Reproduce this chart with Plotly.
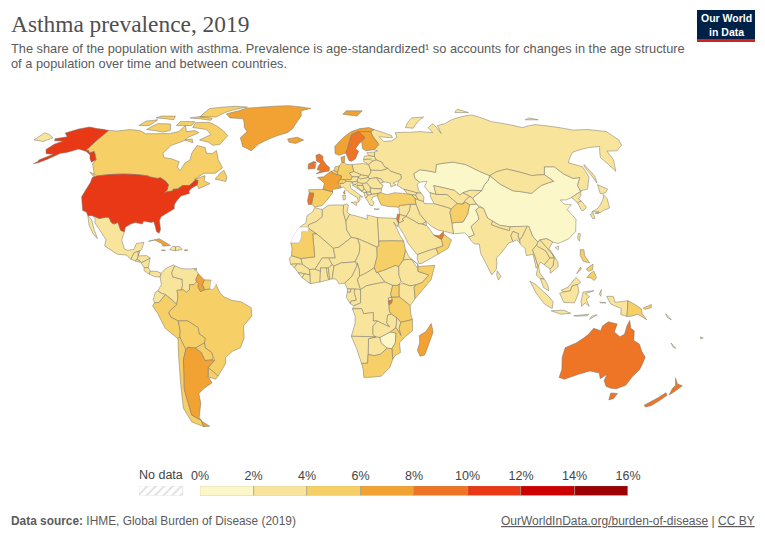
import json
from urllib.parse import quote

import plotly.graph_objects as go

W, H = 765, 540

# ---- chart values (share of population, %)
iso_low = ["CHN","PAK","KAZ","ZWE","LSO"]
val_low = [1.6,1.7,1.7,1.8,1.8]
iso_mid = ["RUS","MNG","UZB","TKM","KGZ","TJK","IND","NPL","BGD","MMR","THA","LAO","VNM","KHM","MYS","IDN","JPN","PRK","KOR","TWN",
           "IRN","IRQ","SYR","JOR","SAU","YEM","KWT","GEO","ARM","AZE","UKR","BLR","MDA","ROU","BGR","SRB","BIH","HRV","SVN","MNE","ALB","MKD","GRC","HUN","SVK","CZE","POL","LTU","LVA","EST","AUT","ITA",
           "MEX","GTM","BLZ","SLV","HND","NIC","CRI","PAN","COL","VEN","ECU","TTO","DOM","HTI",
           "MAR","DZA","TUN","LBY","EGY","MLI","NER","TCD","SEN","GNB","GIN","SLE","LBR","CIV","GHA","TGO","BEN","BFA","NGA","CMR","CAF","SSD","ETH","ERI","DJI","KEN","RWA","GAB","GNQ","COG","COD","AGO","ZMB","MWI","BWA","NAM","SWZ","LKA","SLB","NCL","FJI"]
val_mid = [3.4,3.8,3.2,3.3,3.2,3.2,3.6,3.3,3.4,3.3,3.2,3.2,3.1,3.2,3.6,3.7,3.7,3.3,3.6,3.4,
           3.7,3.6,3.5,3.6,3.7,3.4,3.7,3.2,3.1,3.4,3.5,3.4,3.2,3.5,3.4,3.5,3.4,3.6,3.7,3.4,3.4,3.4,3.8,3.6,3.6,3.8,3.8,3.5,3.5,3.7,3.9,3.9,
           2.9,3.6,3.7,3.8,3.7,3.7,3.8,3.7,3.6,3.6,3.6,3.8,3.8,3.6,
           3.5,3.4,3.5,3.6,3.5,3.3,3.2,3.3,3.4,3.4,3.4,3.4,3.4,3.6,3.7,3.6,3.7,3.4,3.7,3.7,3.5,3.7,3.4,3.6,3.5,3.8,3.8,3.7,3.7,3.6,3.7,3.7,3.7,3.8,3.6,3.6,3.7,3.6,3.6,3.6,3.5]
iso_hi = ["CAN","ESP","BRA","PER","BOL","PRY","CHL","URY","SUR","TUR","AFG","OMN","MRT","SDN","SOM","TZA","MOZ","ZAF","PNG","PHL","DEU","BEL","NLD","CHE","UGA"]
val_hi = [4.8,4.6,4.7,4.4,4.3,4.4,4.8,4.7,5.0,4.5,4.4,4.6,4.2,4.5,4.6,4.7,4.4,4.8,4.5,4.9,5.2,5.5,5.4,5.3,5.2]
iso_or = ["GRL","ISL","NOR","FIN","DNK","ARG","GUY","CUB","PRI","JAM","MDG","FRA"]
val_or = [6.9,7.2,7.4,7.5,7.3,7.2,7.4,7.3,7.6,7.0,7.1,7.8]
iso_ho = ["AUS","NZL","GBR","PRT","ARE","ISR","BDI","SWE","IRL"]
val_ho = [8.9,8.7,9.4,9.6,8.5,9.2,9.1,8.2,8.2]
iso_red = ["USA"]
val_red = [10.7]
iso_none = ["ESH","GUF"]

bin_edges = [0, 2, 4, 6, 8, 10, 12, 14, 16]
bin_colors = ["#fbf7c8", "#f8e59b", "#f6cf66", "#f2a233", "#ee7426", "#e93815", "#cc0000", "#9c0005"]
tick_labels = ["0%", "2%", "4%", "6%", "8%", "10%", "12%", "14%", "16%"]

title = "Asthma prevalence, 2019"
subtitle1 = "The share of the population with asthma. Prevalence is age-standardized¹ so accounts for changes in the age structure"
subtitle2 = "of a population over time and between countries."

# ---- simplified base map: country outlines in lon/lat
BASEMAP = {
"USA":[[(-124.7,48.4),(-123,49),(-95.2,49),(-94.6,48.7),(-92,48.3),(-89.6,48),(-88.4,48.3),(-84.9,46.9),(-82.5,45.3),(-82.1,43),(-83.1,42.1),(-79,42.8),(-79.2,43.4),(-76.8,43.6),(-75,45),(-71.5,45),(-70.3,46.2),(-69.2,47.4),(-67.8,47.1),(-67.5,45.2),(-70,43.8),(-70.7,42.6),(-70,41.7),(-74,40.6),(-75.5,38.5),(-76,36.9),(-75.5,35.3),(-78,33.9),(-81,32),(-81.4,30.5),(-80,26.8),(-80.4,25.2),(-81.8,26),(-82.8,28),(-84,30),(-85.4,29.7),(-89,30.3),(-89.4,29),(-93,29.7),(-95,29),(-97.2,27.7),(-97.2,25.9),(-99.1,26.4),(-101.4,29.8),(-103,29),(-104.5,29.6),(-106.5,31.8),(-108.2,31.8),(-111,31.3),(-114.8,32.5),(-117.1,32.5),(-118.5,34),(-120.6,34.6),(-122.4,37.5),(-124.3,40.3),(-124.1,43),(-124,46.3)],
 [(-141,69.6),(-141,60.3),(-139,60),(-137.5,59),(-135.5,59.7),(-133.5,58.5),(-130,56),(-131.5,55),(-134,56.5),(-136,58.2),(-140,59.7),(-146,60.8),(-151,59.3),(-154,58.9),(-158,56.2),(-161,54.7),(-163,54.3),(-162,55.2),(-162,56),(-157.5,58.5),(-162,58.7),(-165,60.6),(-164,63),(-161,64.5),(-166.5,64.6),(-168,65.6),(-162,66.5),(-166.5,68.3),(-162,70.2),(-156.5,71.3),(-150,70.5)]],
"CAN":[[(-141,69.6),(-135,69.3),(-128,70),(-120,69.4),(-115,68),(-108,68),(-100,68),(-95,69),(-94,72),(-90,69),(-85,69.5),(-81.5,68.5),(-86,66.3),(-87.5,64.5),(-93,62.5),(-94.7,59),(-92.5,57),(-88,56.5),(-82.5,55.2),(-82,52.9),(-79.5,51.3),(-79,54.5),(-77,56),(-78,59),(-77.5,62.4),(-72,61.5),(-69.5,59),(-66,58.7),(-64.5,60.2),(-61,56),(-57,52.5),(-60,50.2),(-66,50.2),(-70,47.5),(-65,49.2),(-64.5,47),(-61,45.8),(-66,43.7),(-67.5,45.2),(-67.8,47.1),(-69.2,47.4),(-70.3,46.2),(-71.5,45),(-75,45),(-76.8,43.6),(-79.2,43.4),(-79,42.8),(-83.1,42.1),(-82.1,43),(-82.5,45.3),(-84.9,46.9),(-88.4,48.3),(-89.6,48),(-92,48.3),(-94.6,48.7),(-95.2,49),(-123,49),(-125,50),(-130,54.2),(-130,56),(-133.5,58.5),(-135.5,59.7),(-137.5,59),(-139,60),(-141,60.3)],
 [(-80,73.7),(-72,71.5),(-68,70),(-62,67),(-64,63),(-68,62.5),(-72,64),(-78,65),(-73,67.5),(-78,70),(-88,71),(-89,73.5)],
 [(-117,70),(-105,68.8),(-101,69.5),(-105,72.8),(-114,73)],
 [(-90,76.5),(-78,76.5),(-75,79),(-62,82.5),(-72,83),(-90,81.5)],
 [(-125,72),(-118,72),(-117,75),(-124,74.3)],
 [(-96,76),(-80,74.7),(-80,75.7),(-90,76.8)],
 [(-59,47.7),(-53,46.7),(-53,48.5),(-55.8,51.5),(-57.5,50)],
 [(-128,50.7),(-123.5,48.4),(-125,49.9)],
 [(-120,76),(-106,75),(-108,77),(-118,77)],
 [(-100,72),(-90,72),(-90,74),(-100,74)],
 [(-87,65),(-81,63.7),(-83,65.5)]],
"GRL":[[(-73,78.2),(-68,76),(-58,75.5),(-54,71),(-51,69),(-53.5,66),(-50,62),(-44,60),(-41,63),(-34,66),(-25,68.5),(-22,70.5),(-20,74),(-18,77),(-19,80),(-12,81.5),(-30,83.5),(-50,82.5),(-62,81.7),(-66,80)]],
"MEX":[[(-114.8,32.5),(-111,31.3),(-108.2,31.8),(-106.5,31.8),(-104.5,29.6),(-103,29),(-101.4,29.8),(-99.1,26.4),(-97.2,25.9),(-97.8,22.4),(-95.9,18.8),(-94.5,18.2),(-91.5,18.5),(-90.5,21),(-87,21.5),(-87.7,18.5),(-88.3,18),(-89.2,17.8),(-91,17.2),(-92.2,14.5),(-94.5,16.2),(-99,16.6),(-105.5,20),(-105.3,22.5),(-109.4,26.7),(-112.5,29.5),(-113,31.2)],
 [(-117.1,32.5),(-114.7,31),(-112,26.7),(-109.5,23),(-112,25),(-115,28.5)]],
"GTM":[[(-92.2,14.5),(-91,17.2),(-89.2,17.8),(-88.9,15.9),(-89.3,14.4),(-90.1,13.8)]],
"BLZ":[[(-89.2,17.8),(-88.3,18),(-88.9,15.9)]],
"SLV":[[(-90.1,13.8),(-89.3,14.4),(-87.8,13.9),(-87.8,13.2)]],
"HND":[[(-89.3,14.4),(-88.9,15.9),(-85,16),(-83.2,15),(-85,14),(-87.3,13),(-87.8,13.9)]],
"NIC":[[(-87.3,13),(-85,14),(-83.2,15),(-83.7,11),(-85.7,11.1)]],
"CRI":[[(-85.7,11.1),(-83.7,11),(-82.6,9.6),(-83,8.3),(-85.6,9.9)]],
"PAN":[[(-83,8.3),(-82.6,9.6),(-79.5,9.5),(-77.4,8.7),(-77.9,7.2),(-80.4,7.3)]],
"CUB":[[(-84.9,21.9),(-80,23),(-74.2,20.2),(-77.7,19.9),(-78.5,21),(-82,22.4)]],
"HTI":[[(-74.4,18.4),(-71.7,18),(-71.7,19.7),(-73,19.9)]],
"DOM":[[(-71.7,18),(-68.4,18.5),(-69.9,19.8),(-71.7,19.7)]],
"JAM":[[(-78.3,18.2),(-76.3,18),(-76.9,18.4)]],
"PRI":[[(-67.2,18),(-65.7,18.2),(-67.1,18.5)]],
"TTO":[[(-61.9,10.1),(-61,10.1),(-61,10.8),(-61.7,10.7)]],
"COL":[[(-77.4,8.7),(-75.5,10.7),(-72,12.2),(-71.3,11.8),(-72.5,9),(-72,7.2),(-67.5,6.2),(-67.3,3.5),(-67.8,1.8),(-69.8,1.7),(-69.4,-1),(-70,-4.2),(-72,-2.4),(-75.2,-0.1),(-77,0.4),(-78.8,1.4),(-77.2,4),(-77.9,7.2)]],
"VEN":[[(-71.3,11.8),(-68,10.6),(-64,10.5),(-61.8,10.7),(-60,8.5),(-61.2,6),(-60.7,5.2),(-62,4),(-64,4),(-64,2),(-65.5,0.8),(-67,2),(-67.8,1.8),(-67.3,3.5),(-67.5,6.2),(-72,7.2),(-72.5,9)]],
"GUY":[[(-60,8.5),(-57.2,6),(-58,4),(-56.9,1.9),(-58.8,1.2),(-60,3),(-59.9,4.5),(-60.7,5.2),(-61.2,6)]],
"SUR":[[(-57.2,6),(-54,5.9),(-54.4,2.3),(-56.9,1.9),(-58,4)]],
"GUF":[[(-54,5.9),(-51.6,4.2),(-52.9,2.2),(-54.4,2.3)]],
"BRA":[[(-51.6,4.2),(-50,1),(-48,-1),(-44,-2.5),(-40,-3),(-35.2,-5.5),(-35,-9),(-39,-13),(-39,-18),(-41,-22),(-45,-23.5),(-48.5,-26),(-48.8,-28.5),(-53.4,-33.7),(-57.6,-30.2),(-54,-27.2),(-54.6,-25.5),(-55,-24),(-57.9,-22),(-58,-20),(-57.5,-18),(-60.2,-16.3),(-60.4,-13.7),(-65.3,-10.9),(-69.6,-11),(-73,-9.4),(-74,-7.3),(-70,-4.2),(-69.4,-1),(-69.8,1.7),(-67.8,1.8),(-67,2),(-65.5,0.8),(-64,2),(-64,4),(-62,4),(-60.7,5.2),(-59.9,4.5),(-60,3),(-58.8,1.2),(-56.9,1.9),(-54.4,2.3),(-52.9,2.2)]],
"ECU":[[(-80.9,-2.2),(-80,0.8),(-78.8,1.4),(-77,0.4),(-75.2,-0.1),(-78.3,-3.4),(-80.3,-3.4)]],
"PER":[[(-81.3,-4.7),(-80.3,-3.4),(-78.3,-3.4),(-75.2,-0.1),(-72,-2.4),(-70,-4.2),(-74,-7.3),(-73,-9.4),(-69.6,-11),(-69,-15),(-69.5,-17.5),(-70.4,-18.3),(-76,-14),(-79,-8)]],
"BOL":[[(-69.6,-11),(-65.3,-10.9),(-60.4,-13.7),(-60.2,-16.3),(-57.5,-18),(-58,-20),(-62.6,-22.2),(-66.2,-21.8),(-67.2,-22.8),(-68.7,-19.5),(-69.5,-17.5),(-69,-15)]],
"PRY":[[(-58,-20),(-57.9,-22),(-55,-24),(-54.6,-25.5),(-54.8,-27),(-58.6,-27.3),(-60,-24),(-62.6,-22.2)]],
"CHL":[[(-70.4,-18.3),(-69.5,-17.5),(-68.7,-19.5),(-67.2,-22.8),(-69,-27),(-70,-33),(-71.7,-39),(-72,-45),(-72.5,-50),(-68.4,-52.3),(-68.6,-55),(-74,-53),(-75.5,-47),(-73.5,-40),(-71.5,-30)]],
"ARG":[[(-66.2,-21.8),(-62.6,-22.2),(-60,-24),(-58.6,-27.3),(-54.8,-27),(-54,-27.2),(-57.6,-30.2),(-58.4,-34),(-57,-36.5),(-62,-39),(-65,-41),(-65.5,-45),(-69,-51),(-68.4,-52.3),(-72.5,-50),(-72,-45),(-71.7,-39),(-70,-33),(-69,-27),(-67.2,-22.8)],
 [(-68.6,-52.6),(-65.2,-54.8),(-68.6,-55)]],
"URY":[[(-57.6,-30.2),(-53.4,-33.7),(-54.9,-35),(-58.4,-34)]],
"ISL":[[(-24,65.5),(-18,66.3),(-14,65),(-18.7,63.4),(-22.7,63.9)]],
"GBR":[[(-5.5,50),(1.5,51.2),(1.7,52.7),(-0.2,54),(-2,56),(-2,57.6),(-4,58.6),(-6,58),(-5.5,55.5),(-3.2,54.5),(-4.5,53.2),(-5,51.7),(-3,51.3)],
 [(-8,54.4),(-5.5,54.5),(-6.2,55.2),(-7.3,55.2)]],
"IRL":[[(-10,52),(-6.2,52.2),(-6,54),(-8,54.4),(-7.3,55.2),(-10,54.2)]],
"FRA":[[(-1.8,43.4),(-1,46),(-4.7,48.4),(-1.5,48.7),(1.5,50.5),(2.5,51),(4.2,50),(5.8,49.6),(8.2,49),(7.5,47.6),(6,46.2),(7.5,44),(3.1,43.3),(3.2,42.4)],
 [(8.6,41.9),(9.5,41.4),(9.5,43)]],
"ESP":[[(-9.2,43.2),(-8.8,41.9),(-6.5,41.8),(-7,39.5),(-7.4,37.2),(-5.6,36),(-2,36.8),(0.2,38.8),(3.2,41.9),(3.2,42.4),(-1.8,43.4)]],
"PRT":[[(-8.8,41.9),(-6.5,41.8),(-7,39.5),(-7.4,37.2),(-9,37),(-9.5,38.8)]],
"BEL":[[(2.5,51),(4.2,51.4),(6,50.7),(5.8,49.6),(4.2,50)]],
"NLD":[[(4.2,51.4),(4.8,53),(7.1,53.4),(6,50.7)]],
"DEU":[[(7.1,53.4),(8.7,54.9),(10,54.8),(11,54),(14.2,53.9),(14.8,51),(12.3,50.3),(13.7,48.7),(13,47.5),(9.6,47.5),(7.5,47.6),(8.2,49),(5.8,49.6),(6,50.7)]],
"DNK":[[(8.7,54.9),(8.2,57),(10.6,57.7),(10,54.8)]],
"CHE":[[(6,46.2),(7.5,47.6),(9.6,47.5),(10.4,46.8),(9,45.9),(7,45.9)]],
"AUT":[[(9.6,47.5),(13,47.5),(13.7,48.7),(17,48.7),(16.2,46.9),(13.7,46.5),(10.4,46.8)]],
"ITA":[[(7,45.9),(9,45.9),(10.4,46.8),(13.7,46.5),(12.4,45.4),(12.5,44),(16,41.7),(18.5,40.2),(16.8,40.3),(17,39),(16,38),(15.7,40),(12.5,41.5),(10.5,43),(8.8,44.4),(7.5,44)],
 [(12.5,38),(15.5,38.2),(15,36.7)],[(8.3,41),(9.7,41),(9.5,39.1),(8.5,39)]],
"CZE":[[(12.3,50.3),(14.8,51),(18.8,49.6),(17,48.7),(13.7,48.7)]],
"SVK":[[(17,48.7),(18.8,49.6),(22.5,49),(22,48.4),(18,47.8)]],
"HUN":[[(16.2,46.9),(17,48.7),(18,47.8),(22,48.4),(22.9,47.9),(21,46.2),(18.8,45.9),(16.6,46.4)]],
"POL":[[(14.2,53.9),(19.8,54.4),(23.4,54),(24,51.6),(24,50.6),(22.5,49),(18.8,49.6),(14.8,51)]],
"SVN":[[(13.7,46.5),(16.2,46.9),(16.6,46.4),(15.5,45.5),(13.7,45.5)]],
"HRV":[[(13.6,45.1),(15.5,45.5),(16.6,46.4),(18.8,45.9),(19,45),(16,45.2),(15.8,44.6),(18.4,42.5),(15.2,44.2)]],
"BIH":[[(16,45.2),(19,45),(19.4,43.6),(18.4,42.5),(15.8,44.6)]],
"SRB":[[(19,45),(18.8,45.9),(21,46.2),(22.7,44.5),(22.6,42.3),(20.5,42.2),(20.5,42.8),(19.4,43.6)]],
"MNE":[[(18.4,42.5),(19.4,43.6),(20.5,42.8),(20.5,42.2),(19.3,41.9)]],
"ALB":[[(19.3,41.9),(20.5,42.2),(21,40.9),(21,40.7),(20,39.7),(19.4,40.6)]],
"MKD":[[(20.5,42.2),(22.6,42.3),(23,41.3),(21,40.9)]],
"GRC":[[(20,39.7),(21,40.7),(21,40.9),(23,41.3),(26.3,41.7),(26,40.8),(23.5,40.2),(22.8,39),(24,38),(23,36.5),(21.7,36.9),(21,38.3)],
 [(23.6,35.3),(26.3,35.2),(25,35)]],
"BGR":[[(22.6,42.3),(22.7,44),(25,43.7),(28.5,43.6),(28,42),(26.3,41.7),(23,41.3)]],
"ROU":[[(21,46.2),(22.9,47.9),(26.6,48.3),(28.2,46),(29.6,45.2),(28.5,43.6),(25,43.7),(22.7,44),(22.7,44.5)]],
"MDA":[[(26.6,48.3),(29,47.8),(30,46.4),(28.2,46)]],
"UKR":[[(22.9,47.9),(22,48.4),(22.5,49),(24,50.6),(24,51.6),(30,51.4),(33.5,52.3),(35,51),(40,49.6),(39.7,47.9),(38,47),(35,46),(36.5,45.3),(33.5,44.4),(33.5,46),(31,46.5),(30,46.4),(29,47.8),(26.6,48.3)]],
"BLR":[[(24,51.6),(23.4,54),(26,55.5),(28,56),(31,55),(32,53),(33.5,52.3),(30,51.4)]],
"LTU":[[(21,56.2),(25,56.4),(26,55.5),(23.4,54),(21,55.2)]],
"LVA":[[(21,56.2),(21.7,57.6),(24.4,57.9),(27.5,57.5),(28,56),(26,55.5),(25,56.4)]],
"EST":[[(23.5,59.2),(28,59.5),(27.5,57.5),(24.4,57.9)]],
"NOR":[[(7,58),(5,58.8),(5,62),(12,67),(16,69),(22,70.5),(28,71),(31,70),(28.5,69),(25,69),(20.5,69),(16,67.5),(12.5,61),(11.2,59)],
 [(12,78),(22,77),(27,80),(15,80)]],
"SWE":[[(11.2,59),(12.5,61),(16,67.5),(20.5,69),(24,66),(21.5,64.5),(17.2,61),(18.8,59.8),(16.5,56.5),(14.2,55.4),(12.8,55.6)]],
"FIN":[[(20.5,69),(25,69),(28.5,69),(29,66.8),(31.5,62.9),(28,60.5),(23,60),(21.4,61),(21.5,64.5),(24,66)]],
"RUS":[[(31,70),(41,67),(41,66),(33,66.5),(35,64.3),(40,64.6),(44,66.3),(44,68.5),(54,68.7),(60,69),(68,68.5),(67,71),(72,73),(73,68),(74,72),(80,73),(87,75),(105,77.7),(113,74),(129,71),(140,72.5),(160,69.7),(170,70),(179.9,69),(179.9,65),(177,62.5),(170,60),(164,59.9),(162,56),(157,51),(156,57),(163,62),(156,61.5),(143,59.3),(135,54.7),(141,53),(140,48.5),(135,43.5),(131,42.8),(130.7,42.5),(131,45),(135,48.4),(131,48),(127.5,50),(125.5,53),(120,53),(117,49.6),(110,49.2),(106,50.3),(98.5,52),(92,50.8),(87.5,49.2),(83,51),(77,54),(71,55),(61,54),(59,50.6),(51,51.7),(47,50),(47,48),(49,46.4),(47.5,45.5),(47.5,43),(48.5,41.8),(46.5,41.9),(40,43.4),(37,45),(38,47),(39.7,47.9),(40,49.6),(35,51),(33.5,52.3),(32,53),(31,55),(28,56),(27.5,57.5),(28,59.5),(30,60),(28,60.5),(31.5,62.9),(29,66.8),(28.5,69)],
 [(-179.9,68.5),(-175,67.5),(-170,66),(-173,64.3),(-179.9,65)],
 [(52,71),(57,70.7),(69,76.5),(60,76)],[(95,79),(105,79),(100,81)],[(138,75),(147,75),(143,76)],[(142,46),(143.5,49),(143,54),(142,53)]],
"TUR":[[(26,40),(26.3,41.7),(28,42),(31,41.2),(35,42),(41.5,41.5),(43.6,41.1),(44.8,39.7),(44.8,37.2),(42,37.2),(36.5,36.7),(36,36),(30.5,36.3),(27.3,37)]],
"GEO":[[(40,43.4),(46.5,41.9),(45.5,41),(43.6,41.1),(41.5,41.5)]],
"ARM":[[(43.6,41.1),(45.5,41),(46.5,39),(44.8,39.7)]],
"AZE":[[(46.5,41.9),(48.5,41.8),(49.5,40.3),(48.9,38.4),(46.5,39),(45.5,41)]],
"KAZ":[[(47,50),(51,51.7),(59,50.6),(61,54),(71,55),(77,54),(83,51),(87.5,49.2),(85.5,47.2),(82.5,45.3),(80,42.9),(74,43),(70,42),(68,41),(66,43),(61,44),(56,45),(56,41.3),(53,42),(51,44.5),(53,46.8),(49,46.4),(47,48)]],
"UZB":[[(56,45),(61,44),(66,43),(68,41),(70,42),(73,40.5),(71,39.5),(68,37.2),(65.5,37.5),(61.5,41.2),(56,41.3)]],
"TKM":[[(53,42),(56,41.3),(61.5,41.2),(65.5,37.5),(62,35.3),(54,37.4),(53,40)]],
"KGZ":[[(70,42),(74,43),(80,42.9),(74,39.7),(73,40.5)]],
"TJK":[[(68,37.2),(71,39.5),(73,40.5),(74,39.7),(75,37.3),(71.5,37),(70,38)]],
"MNG":[[(87.5,49.2),(92,50.8),(98.5,52),(106,50.3),(110,49.2),(117,49.6),(119.8,46.8),(112,45),(105,41.7),(96,42.8),(91,45.5)]],
"CHN":[[(80,42.9),(82.5,45.3),(85.5,47.2),(87.5,49.2),(91,45.5),(96,42.8),(105,41.7),(112,45),(119.8,46.8),(117,49.6),(120,53),(125.5,53),(127.5,50),(131,48),(135,48.4),(131,45),(130.7,42.5),(128,41.5),(124.3,40),(121,39),(118,39),(119,37.3),(122.5,37),(119.3,35),(121.9,31),(120,26),(116,23),(110.5,21),(108,21.6),(105.5,23),(102,22.5),(101,21.5),(98.8,24),(98,28),(92,28),(88.8,27.9),(84,28.5),(81,30.2),(78.8,31.5),(78,35.5),(75,37.3),(74,39.7)],
 [(108.7,19.3),(110.5,20),(110,18.4)]],
"TWN":[[(120.2,23),(121,25.2),(122,25),(120.8,22)]],
"PRK":[[(124.3,40),(128,41.5),(130.7,42.5),(129.5,40.8),(127.5,39.5),(128.3,38.6),(126,37.8)]],
"KOR":[[(126,37.8),(128.3,38.6),(129.4,36),(127.5,34.7),(126.3,34.7)]],
"JPN":[[(131,34),(135,35.6),(137,37),(140,39.5),(141.3,41.3),(142,39.5),(140.8,35.7),(137,34.6),(135,33.7),(132.5,34.2)],
 [(129.8,33),(131.5,33.7),(131.3,31.3),(130.2,31.3)],[(140,41.5),(141.7,45.4),(145.3,43.5),(143,42)],[(132.2,33.5),(134.5,34.2),(134,33.3)]],
"IND":[[(74,34.7),(76,36),(78,35.5),(78.8,31.5),(81,30.2),(80,28.8),(84,27.4),(88.2,26.4),(88.8,27.9),(92,28),(97.3,28.2),(94,24),(92.5,22.5),(91.8,24.3),(92.4,25),(89.8,26),(88.5,24.3),(89,21.8),(87,21.3),(82.3,16.6),(80.2,15),(80.3,13),(79.8,10.4),(77.5,8),(76,11),(73,17),(72.8,20.8),(70.5,20.8),(69,22.3),(68.2,23.7),(71,24.5),(70,28),(74.5,31),(74.5,33)]],
"NPL":[[(80,28.8),(81,30.2),(84,28.5),(88.8,27.9),(88.2,26.4),(84,27.4)]],
"BGD":[[(88.5,24.3),(89.8,26),(92.4,25),(91.8,24.3),(92.5,21),(91,22.5),(89,21.8)]],
"PAK":[[(61,25),(61,29.5),(66.5,29.9),(69.5,33.2),(71,36),(71.5,37),(75,37.3),(76,36),(74,34.7),(74.5,33),(74.5,31),(70,28),(71,24.5),(68.2,23.7),(66.5,25.4)]],
"AFG":[[(61,29.5),(61,34),(62,35.3),(65.5,37.5),(68,37.2),(70,38),(71.5,37),(71,36),(69.5,33.2),(66.5,29.9)]],
"IRN":[[(44.8,39.7),(46.5,39),(48.9,38.4),(49,37.5),(54,37.4),(62,35.3),(61,34),(61,29.5),(61,25),(57,26),(54,26.5),(51,28),(48.5,30),(46,33),(44.8,37.2)]],
"IRQ":[[(44.8,37.2),(46,33),(48.5,30),(46.5,29),(44.8,29.2),(39,32.2),(41,34.5),(42,37.2)]],
"SYR":[[(36,36),(36.5,36.7),(42,37.2),(41,34.5),(39,32.2),(36,33)]],
"JOR":[[(36,33),(39,32.2),(37,31),(37.8,30.4),(35,29.4),(35.5,31.5)]],
"ISR":[[(34.3,31.3),(35,33.2),(36,33),(35.5,31.5),(35,29.4)]],
"SAU":[[(35,29.4),(37.8,30.4),(37,31),(39,32.2),(44.8,29.2),(46.5,29),(48.5,28.5),(50,26.7),(51.5,24.5),(55,22.7),(55.5,20),(52,19),(48.8,18.2),(43.3,16.5),(42.8,16.5),(39,21),(37,25),(35,28)]],
"KWT":[[(46.5,29),(48.5,30),(48.5,28.5)]],
"ARE":[[(51.5,24.5),(54,24.2),(56.3,26),(56.4,24.7),(55,22.7)]],
"OMN":[[(56.4,24.7),(59.8,22.5),(57.8,19),(53,16.7),(52,19),(55.5,20),(55,22.7)]],
"YEM":[[(43.3,16.5),(48.8,18.2),(52,19),(53,16.7),(45,12.8),(43.5,12.7),(42.8,15)]],
"MMR":[[(92.3,20.8),(92.5,22.5),(94,24),(97.3,28.2),(98,28),(98.8,24),(101,21.5),(100,20.3),(97.8,18.3),(98.6,15.5),(99.5,11.5),(98.5,10.8),(97.8,16.5),(94.5,16),(94.3,19)]],
"THA":[[(97.8,18.3),(100,20.3),(101,19.5),(104,18),(105.5,15),(102.5,12.2),(100.9,13.3),(99.8,12),(100,9),(102,6.3),(100.2,6.5),(98.3,8),(99.5,11.5),(98.6,15.5)]],
"LAO":[[(101,21.5),(102,22.5),(103.5,20.8),(107,16.5),(107.5,15),(105.5,15),(104,18),(101,19.5),(100,20.3)]],
"VNM":[[(102,22.5),(105.5,23),(108,21.6),(105.7,19),(109,13.5),(109,11.5),(105,8.7),(105,10.5),(106.5,11.7),(107.5,15),(107,16.5),(103.5,20.8)]],
"KHM":[[(102.5,12.2),(105.5,15),(107.5,15),(106.5,11.7),(105,10.5)]],
"MYS":[[(100.2,6.5),(102,6.3),(103.5,4),(104,1.5),(101.5,2.8)],[(109.7,1.7),(113,3),(117,7),(119,5),(117.5,4.1),(115,3.5),(114,1.5),(111,1)]],
"IDN":[[(109,0.5),(111,1),(114,1.5),(115,3.5),(117.5,4.1),(118,1),(116,-3.5),(111,-3.3),(110,-1.5)],
 [(95.3,5.5),(98,4),(104,-1),(106,-3),(105.7,-5.8),(102,-4),(98,0.5)],
 [(105.3,-6.8),(111,-6.5),(114.5,-7.8),(110,-8.2)],
 [(119.5,-5),(119,-3),(120,1),(125,1.5),(121,0.3),(123,-1),(121.5,-2),(123,-5),(121,-3.5)],
 [(116,-8.8),(123,-8.2),(122.5,-8.8),(117,-9)],[(123.5,-10.3),(127,-8.4),(124.5,-9)],
 [(127.5,0),(128.5,2),(128.3,-0.8)],[(127.8,-3.2),(130.8,-3.5),(128,-3.5)],
 [(131,-0.8),(134,-0.8),(135,-3.3),(141,-2.6),(141,-9.1),(138,-8.3),(138,-5.8),(133,-4),(132,-2.5)]],
"PNG":[[(141,-2.6),(145,-4.5),(147.5,-6),(148,-8),(150.5,-10.5),(146,-8.2),(143,-9),(141,-9.1)],[(148.3,-5.6),(152,-4.2),(152,-5.5),(149,-6.2)]],
"PHL":[[(120.5,18.5),(122.2,18.4),(122,16),(124,13),(121,13.7),(120,16)],[(122,7),(123.7,8.5),(125.5,9.7),(126.5,7),(125.4,5.7),(124,6.8)],[(122,10.5),(125.5,12.5),(125,10.2),(123,9.5)],[(117.3,8.5),(119.5,11.3),(119.7,10.5)]],
"LKA":[[(79.8,8),(80.2,9.8),(81.8,7.5),(80.6,5.9)]],
"SLB":[[(159,-8),(162,-10.5),(160,-9.5)]],
"NCL":[[(164,-20.1),(167,-22.3),(165.5,-21.8)]],
"FJI":[[(177.2,-17.5),(178.7,-18),(177.5,-18.3)]],
"AUS":[[(114,-22),(113.5,-26),(115,-31),(115,-34.3),(118,-35),(124,-33),(129,-31.6),(134,-32.5),(135.6,-34.8),(138,-33),(138,-35.6),(140.5,-38),(143.5,-38.8),(146.3,-39),(150,-37.5),(151,-34),(153,-31),(153.5,-26),(151,-23.5),(149,-20.5),(146,-19),(145.3,-15),(143.5,-14),(142.5,-10.8),(141.5,-13),(141,-16.5),(139,-17.5),(136,-15.5),(136.8,-12.2),(132.5,-11.3),(130,-13),(129.5,-15),(126,-14),(124,-16.5),(122,-18),(119,-20)],
 [(144.7,-40.7),(148.3,-40.9),(148,-43),(146,-43.6)]],
"NZL":[[(172.7,-34.5),(175.5,-37),(178.5,-37.7),(177,-39.7),(175.3,-41.6),(174.5,-39),(175,-37.5)],[(172.7,-40.6),(174.3,-41.7),(172.7,-43.7),(170.5,-46),(168,-46.6),(166.5,-45.8),(170.5,-42.8)]],
"MAR":[[(-5.9,35.8),(-2,35),(-2,32),(-5,30),(-8.7,28.7),(-8.7,27.7),(-13,27.7),(-10,29.5),(-9.5,32.5),(-6.8,34)]],
"ESH":[[(-13,27.7),(-8.7,27.7),(-8.7,26),(-12,26),(-12,23.4),(-13,21.3),(-17,21.3),(-16,24),(-14.5,26)]],
"DZA":[[(-2,35),(1,36.8),(8.6,36.9),(8.3,34),(9.5,30.2),(9.8,26.5),(12,23.5),(6,19.5),(3.3,19),(-4.8,25),(-8.7,27.3),(-8.7,28.7),(-5,30),(-2,32)]],
"TUN":[[(8.6,36.9),(10,37.3),(11,36.8),(10.2,34),(11.5,33),(9.5,30.2),(8.3,34)]],
"LBY":[[(11.5,33),(15,32.3),(20,31),(20,32.8),(25,31.7),(25,20),(24,19.5),(15,23),(12,23.5),(9.8,26.5),(9.5,30.2)]],
"EGY":[[(25,31.7),(31,31.5),(34.3,31.3),(35,29.4),(34.3,27.8),(32.7,29.8),(35.5,24),(36.9,22),(25,22)]],
"MRT":[[(-17,21.3),(-13,21.3),(-12,23.4),(-12,26),(-8.7,26),(-8.7,27.3),(-4.8,25),(-6.6,25),(-5.5,15.5),(-12,14.8),(-16.5,16),(-16.3,19)]],
"MLI":[[(-12,14.8),(-5.5,15.5),(-6.6,25),(-4.8,25),(3.3,19),(4.2,15),(1,15),(-2,15),(-5.3,10.4),(-8,10.3),(-11.4,12.4)]],
"SEN":[[(-17.5,14.7),(-16.5,16),(-12,14.8),(-11.4,12.4),(-13.7,12.6),(-16.8,12.4)]],
"GNB":[[(-16.8,12.4),(-13.7,12.6),(-15,11)]],
"GIN":[[(-15,11),(-13.7,12.6),(-11.4,12.4),(-8,10.3),(-7.6,8),(-10.2,8.5),(-13.3,9)]],
"SLE":[[(-13.3,9),(-10.2,8.5),(-11.4,6.9)]],
"LBR":[[(-11.4,6.9),(-10.2,8.5),(-7.6,8),(-7.5,4.4)]],
"CIV":[[(-7.5,4.4),(-7.6,8),(-8,10.3),(-5.3,10.4),(-2.8,9.6),(-3,5.1)]],
"GHA":[[(-3,5.1),(-2.8,9.6),(-2.8,11),(0,11),(0.5,8),(1.1,6)]],
"TGO":[[(0,11),(0.9,11),(1.6,6.2),(1.1,6),(0.5,8)]],
"BEN":[[(0.9,11),(2.7,12.3),(3.6,11.7),(2.7,6.4),(1.6,6.2)]],
"BFA":[[(-5.3,10.4),(-2,15),(1,15),(2.7,12.3),(0.9,11),(0,11),(-2.8,11),(-2.8,9.6)]],
"NER":[[(1,15),(4.2,15),(3.3,19),(6,19.5),(12,23.5),(15,23),(16,20),(15.5,16.9),(13.6,13.7),(13.5,13.4),(7,13),(3.6,11.7),(2.7,12.3)]],
"NGA":[[(2.7,6.4),(3.6,11.7),(7,13),(13.5,13.4),(14.5,12),(12,7.5),(8.6,4.7),(6,4.3),(4.5,6.3)]],
"CMR":[[(8.6,4.7),(12,7.5),(14.5,12),(14.5,13),(15.5,10),(15.5,7.5),(14.5,6),(16,2),(13.3,2.2),(9.8,2.3)]],
"TCD":[[(14.5,13),(13.6,13.7),(15.5,16.9),(16,20),(15,23),(24,19.5),(24,15.7),(22.5,11),(19,9),(15.5,7.5),(15.5,10)]],
"CAF":[[(15.5,7.5),(19,9),(22.5,11),(27.4,5.1),(22,4.2),(18.6,3.5),(16,2),(14.5,6)]],
"SDN":[[(24,19.5),(25,20),(25,22),(36.9,22),(37.5,18.5),(36.3,14.3),(34,11.5),(32.5,12),(27,10),(23.5,9),(22.5,11),(24,15.7)]],
"SSD":[[(23.5,9),(27,10),(32.5,12),(34,11.5),(34,8),(35,5.3),(33.5,3.7),(31,3.7),(27.4,5.1),(22.5,11)]],
"ETH":[[(36.3,14.3),(40,14.5),(42.7,11),(43,9.5),(48,8),(45,5),(41.9,3.9),(39,3.5),(36,4.5),(35,5.3),(34,8),(34,11.5)]],
"ERI":[[(37.5,18.5),(39,15.5),(43,12.5),(40,14.5),(36.3,14.3)]],
"DJI":[[(43,12.5),(43.3,11.5),(42.7,11)]],
"SOM":[[(43.3,11.5),(51,12),(49,6),(41.5,-1.7),(41,3),(41.9,3.9),(45,5),(48,8),(43,9.5)]],
"KEN":[[(41,3),(41.9,3.9),(39,3.5),(36,4.5),(34,4.2),(33.9,0),(34,-1),(37.7,-3.5),(39.2,-4.7),(41.5,-1.7)]],
"UGA":[[(31,3.7),(33.5,3.7),(34,4.2),(33.9,0),(34,-1),(30.5,-1.1),(30,0)]],
"RWA":[[(29,-1.4),(30.5,-1.1),(30.8,-2.3),(29,-2.7)]],
"BDI":[[(29,-2.7),(30.8,-2.3),(30.5,-3.5),(29.3,-4.4)]],
"TZA":[[(30.5,-1.1),(34,-1),(37.7,-3.5),(39.2,-4.7),(39.5,-8),(40.4,-10.4),(35,-11.5),(33,-9.5),(30.5,-8.2),(29.5,-7),(29.3,-4.4),(30.5,-3.5),(30.8,-2.3)]],
"COD":[[(12.2,-6),(13,-4.7),(16,-3.5),(16,2),(18.6,3.5),(22,4.2),(27.4,5.1),(31,3.7),(30,0),(30.5,-1.1),(29,-1.4),(29,-2.7),(29.3,-4.4),(29.5,-7),(30.5,-8.2),(28.7,-8.5),(28.4,-11.8),(29.8,-13.4),(26,-11.9),(24,-11),(22,-11),(22,-7.5),(17.5,-8),(16.5,-5.9)]],
"COG":[[(11.2,-3.9),(13,-4.7),(16,-3.5),(16,2),(13.3,2.2),(13,1),(14,-2.4),(11.5,-2.8)]],
"GAB":[[(9.3,-1.2),(9.8,1),(11.3,1),(11.3,2.2),(13.3,2.2),(13,1),(14,-2.4),(11.5,-2.8),(11.2,-3.9)]],
"GNQ":[[(9.8,1),(11.3,1),(11.3,2.2),(9.8,2.3)]],
"AGO":[[(12.2,-6),(16.5,-5.9),(17.5,-8),(22,-7.5),(22,-11),(24,-11),(22,-13),(22,-16.5),(23.4,-17.6),(18.5,-17.4),(11.8,-17.3),(13.5,-12),(13.5,-9)]],
"ZMB":[[(24,-11),(26,-11.9),(29.8,-13.4),(28.4,-11.8),(28.7,-8.5),(30.5,-8.2),(33,-9.5),(33,-11),(32.8,-13.7),(30.3,-15.5),(28,-16.5),(25.3,-17.8),(23.4,-17.6),(22,-16.5),(22,-13)]],
"MWI":[[(33,-9.5),(35,-11.5),(34.3,-14),(35.3,-17),(32.8,-13.7),(33,-11)]],
"MOZ":[[(40.4,-10.4),(35,-11.5),(34.3,-14),(35.3,-17),(32.8,-13.7),(30.3,-15.5),(32.9,-16),(32.8,-20),(31.3,-22.4),(32,-26.8),(33,-25.3),(35.5,-24),(34.8,-20),(37,-17.7),(40.7,-15)]],
"ZWE":[[(25.3,-17.8),(28,-16.5),(30.3,-15.5),(32.9,-16),(32.8,-20),(31.3,-22.4),(29,-22.2),(26,-20)]],
"BWA":[[(20,-18.3),(23.4,-17.6),(25.3,-17.8),(26,-20),(29,-22.2),(26,-24.7),(23,-25.3),(20,-24.8),(20,-22)]],
"NAM":[[(11.8,-17.3),(18.5,-17.4),(23.4,-17.6),(20,-18.3),(20,-22),(20,-24.8),(20,-28.4),(17,-28.5),(14.5,-22.5)]],
"ZAF":[[(17,-28.5),(20,-28.4),(20,-24.8),(23,-25.3),(26,-24.7),(29,-22.2),(31.3,-22.4),(32,-26.8),(31,-30),(27,-33.8),(22,-34.2),(18.5,-34.3),(18,-31)]],
"LSO":[[(27.2,-29.8),(28.5,-28.7),(29.3,-29.5),(28,-30.6)]],
"SWZ":[[(31,-25.8),(32,-26.8),(31.2,-27.3)]],
"MDG":[[(49.3,-12),(50.4,-15.5),(47.2,-25),(45,-25.5),(43.5,-23),(44.4,-20),(44,-17),(47,-15.3)]],
}


def ring(points):
    """Closed ring wound clockwise, as the geo projection expects."""
    pts = list(points)
    area = sum(a[0] * b[1] - b[0] * a[1] for a, b in zip(pts, pts[1:] + pts[:1]))
    if area > 0:
        pts = pts[::-1]
    return [list(p) for p in pts + pts[:1]]


geojson = {"type": "FeatureCollection", "features": [
    {"type": "Feature", "id": iso, "properties": {},
     "geometry": {"type": "MultiPolygon", "coordinates": [[ring(r)] for r in rings]}}
    for iso, rings in BASEMAP.items()]}

locations, values = [], []
for isos, vals in [(iso_low, val_low), (iso_mid, val_mid), (iso_hi, val_hi), (iso_or, val_or), (iso_ho, val_ho), (iso_red, val_red)]:
    for iso, v in zip(isos, vals):
        if iso in BASEMAP:
            locations.append(iso)
            values.append(v)

scale = []
for i, c in enumerate(bin_colors):
    scale += [[bin_edges[i] / 16, c], [bin_edges[i + 1] / 16, c]]

BORDER = "#77736a"
fig = go.Figure()
fig.add_trace(go.Choropleth(geojson=geojson, locations=locations, z=values, zmin=0, zmax=16,
                            locationmode="geojson-id", featureidkey="id",
                            colorscale=scale, showscale=False,
                            marker=dict(line=dict(color=BORDER, width=0.5))))
fig.add_trace(go.Choropleth(geojson=geojson, locations=iso_none, z=[0] * len(iso_none), zmin=0, zmax=1,
                            locationmode="geojson-id", featureidkey="id",
                            colorscale=[[0, "#ffffff"], [1, "#ffffff"]], showscale=False,
                            marker=dict(line=dict(color="#cfcfcf", width=0.5))))

# legend: one bar per bin on its own axis
fig.add_trace(go.Bar(x=[bin_edges[i + 1] - bin_edges[i] for i in range(8)], base=bin_edges[:-1], y=[0] * 8,
                     orientation="h", marker=dict(color=bin_colors, line=dict(color="#9a9a8a", width=0.6)),
                     xaxis="x", yaxis="y", showlegend=False, hoverinfo="skip"))
fig.add_trace(go.Bar(x=[1], y=[0], orientation="h",
                     marker=dict(color="#ffffff", line=dict(color="#d0d0d0", width=0.6),
                                 pattern=dict(shape="/", fgcolor="#bdbdbd", bgcolor="#ffffff", size=6, solidity=0.3)),
                     xaxis="x2", yaxis="y2", showlegend=False, hoverinfo="skip"))


def px(x, y):
    return dict(xref="paper", yref="paper", x=x / W, y=1 - y / H, showarrow=False)


GREY = "#5b5b5b"
SANS = "Liberation Sans"
notes = [
    dict(**px(8.5, 24), text=title, xanchor="left", yanchor="middle", font=dict(family="Liberation Serif", size=23.4, color="#4f4f4f")),
    dict(**px(8.5, 48), text=subtitle1, xanchor="left", yanchor="middle", font=dict(family=SANS, size=12.8, color=GREY)),
    dict(**px(8.5, 64), text=subtitle2, xanchor="left", yanchor="middle", font=dict(family=SANS, size=12.8, color=GREY)),
    dict(**px(161, 475), text="No data", xanchor="center", yanchor="middle", font=dict(family=SANS, size=12.5, color="#444444")),
    dict(**px(8.5, 521), text="<b>Data source:</b> IHME, Global Burden of Disease (2019)", xanchor="left", yanchor="middle", font=dict(family=SANS, size=11.9, color=GREY)),
    dict(**px(757, 521), text="<u>OurWorldInData.org/burden-of-disease</u> | <u>CC BY</u>", xanchor="right", yanchor="middle", font=dict(family=SANS, size=12, color=GREY)),
    dict(**px(726, 25), text="<b>Our World<br>in Data</b>", xanchor="center", yanchor="middle", font=dict(family=SANS, size=10.5, color="#ffffff")),
]
shapes = [
    dict(type="rect", xref="paper", yref="paper", x0=697 / W, x1=755 / W, y0=1 - 39 / H, y1=1 - 10 / H, fillcolor="#002147", line=dict(width=0), layer="below"),
    dict(type="rect", xref="paper", yref="paper", x0=697 / W, x1=755 / W, y0=1 - 42 / H, y1=1 - 39 / H, fillcolor="#ce261e", line=dict(width=0), layer="below"),
]

legend_dom = [1 - 495.5 / H, 1 - 486 / H]
fig.update_layout(
    width=W, height=H, margin=dict(l=0, r=0, t=0, b=0, autoexpand=False), paper_bgcolor="white", plot_bgcolor="white",
    bargap=0, barmode="overlay", annotations=notes, shapes=shapes, showlegend=False,
    font=dict(family=SANS, color=GREY),
    geo=dict(domain=dict(x=[0, 1], y=[1 - 460 / H, 1 - 90 / H]),
             projection=dict(type="robinson", scale=1.007),
             center=dict(lon=26.3, lat=8.0),
             lonaxis=dict(range=[-180, 180]), lataxis=dict(range=[-60, 85]),
             showland=False, showocean=False, showlakes=False, showrivers=False, showcountries=False,
             showcoastlines=False, showframe=False, bgcolor="rgba(0,0,0,0)"),
    xaxis=dict(domain=[200 / W, 628 / W], range=[0, 16], side="top", tickmode="array", tickvals=bin_edges,
               ticktext=tick_labels, showgrid=False, zeroline=False, showline=False, ticks="", ticklabelstandoff=3,
               tickfont=dict(family=SANS, size=12.5, color="#444444"), anchor="y", fixedrange=True),
    yaxis=dict(domain=legend_dom, range=[-0.5, 0.5], visible=False, fixedrange=True, anchor="x"),
    xaxis2=dict(domain=[139 / W, 183 / W], range=[0, 1], visible=False, anchor="y2", fixedrange=True),
    yaxis2=dict(domain=legend_dom, range=[-0.5, 0.5], visible=False, anchor="x2", fixedrange=True),
)

# The outlines come from the inline geojson above, so the geo subplot's base-map file
# is an empty local topology carried in the page, with the requested name as a fragment.
empty_topology = json.dumps({"type": "Topology", "objects": {}, "arcs": []})
config = {"topojsonURL": "data:application/json," + quote(empty_topology) + "#", "displayModeBar": False}
fig.write_html("out.html", config=config, post_script="document.body.style.margin='0';")
